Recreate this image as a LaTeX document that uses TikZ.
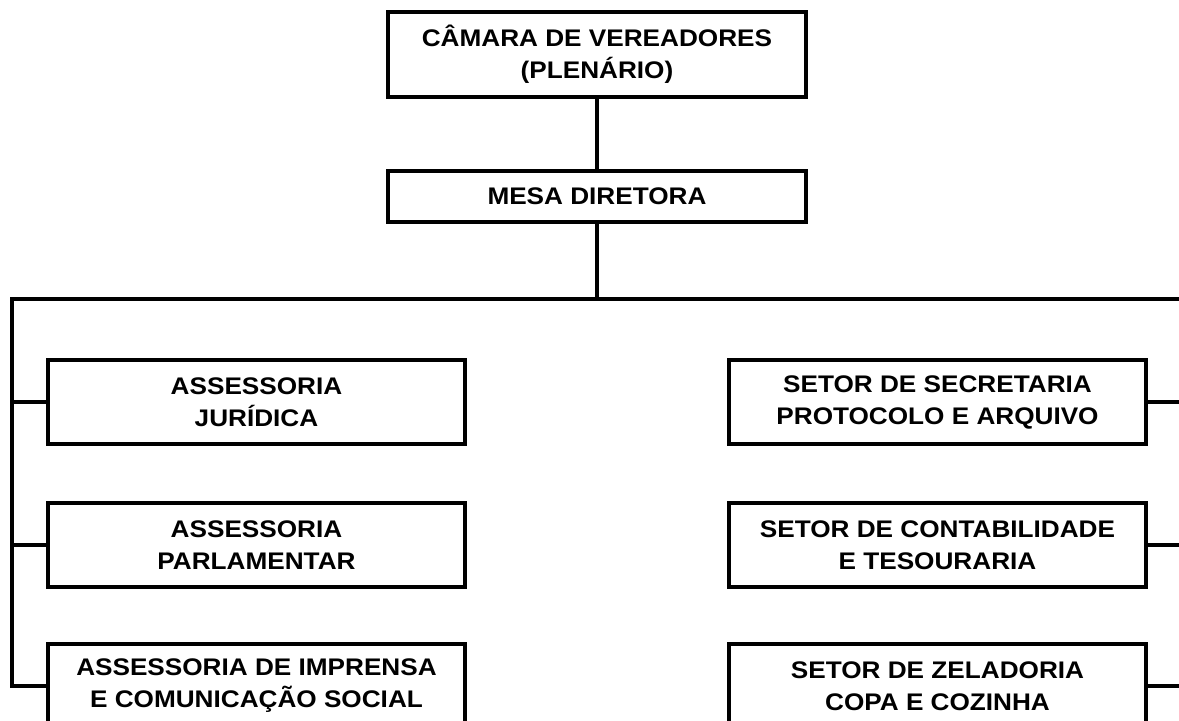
\documentclass[tikz,border=0pt]{standalone}
\usepackage{fontspec}
\setmainfont[FakeStretch=1.09]{Liberation Sans}
\usetikzlibrary{positioning}

\begin{document}
\begin{tikzpicture}[x=0.5pt, y=-0.5pt, node distance=71.5pt, line width=1.7pt,
  every node/.style={draw, line width=1.7pt, font=\bfseries\fontsize{12}{16}\selectfont, align=center,
    inner sep=0pt, minimum width=208.5pt, minimum height=42pt}]
\useasboundingbox (0,0) rectangle (1179,720);
% Specification of nodes (position, etc.)

\node (camara) at (597,54.5) [minimum width=209pt, minimum height=42.5pt] {CÂMARA DE VEREADORES\\(PLENÁRIO)};
\node (mesa)    [below of=camara, node distance=71pt, minimum width=209pt, minimum height=25.5pt] {MESA DIRETORA};
\node (juridica)   [below of=mesa, node distance=102.75pt, xshift=-170.25pt] {ASSESSORIA\\JURÍDICA};
\node (parlamentar) [below of=juridica]    {ASSESSORIA\\PARLAMENTAR};
\node (imprensa)    [below of=parlamentar, node distance=70.5pt] {ASSESSORIA DE IMPRENSA\\E COMUNICAÇÃO SOCIAL};
\node (secretaria)  [right of=juridica, node distance=340.5pt] {SETOR DE SECRETARIA\\PROTOCOLO E ARQUIVO};
\node (contabilidade) [below of=secretaria]    {SETOR DE CONTABILIDADE\\E TESOURARIA};
\node (zeladoria)     [below of=contabilidade, node distance=70.5pt] {SETOR DE ZELADORIA\\COPA E COZINHA};

\coordinate (bus-left)  at (12,299);
\coordinate (bus-right) at (1182,299);

\draw (camara) -- (mesa);
\draw (mesa) -- (mesa |- bus-left);
\draw (bus-right) -- (bus-left) |- (imprensa.west);
\draw (juridica.west) -- (juridica.west -| bus-left);
\draw (parlamentar.west) -- (parlamentar.west -| bus-left);
\draw (bus-right) |- (zeladoria.east);
\draw (secretaria.east) -- (secretaria.east -| bus-right);
\draw (contabilidade.east) -- (contabilidade.east -| bus-right);

\end{tikzpicture}
\end{document}
